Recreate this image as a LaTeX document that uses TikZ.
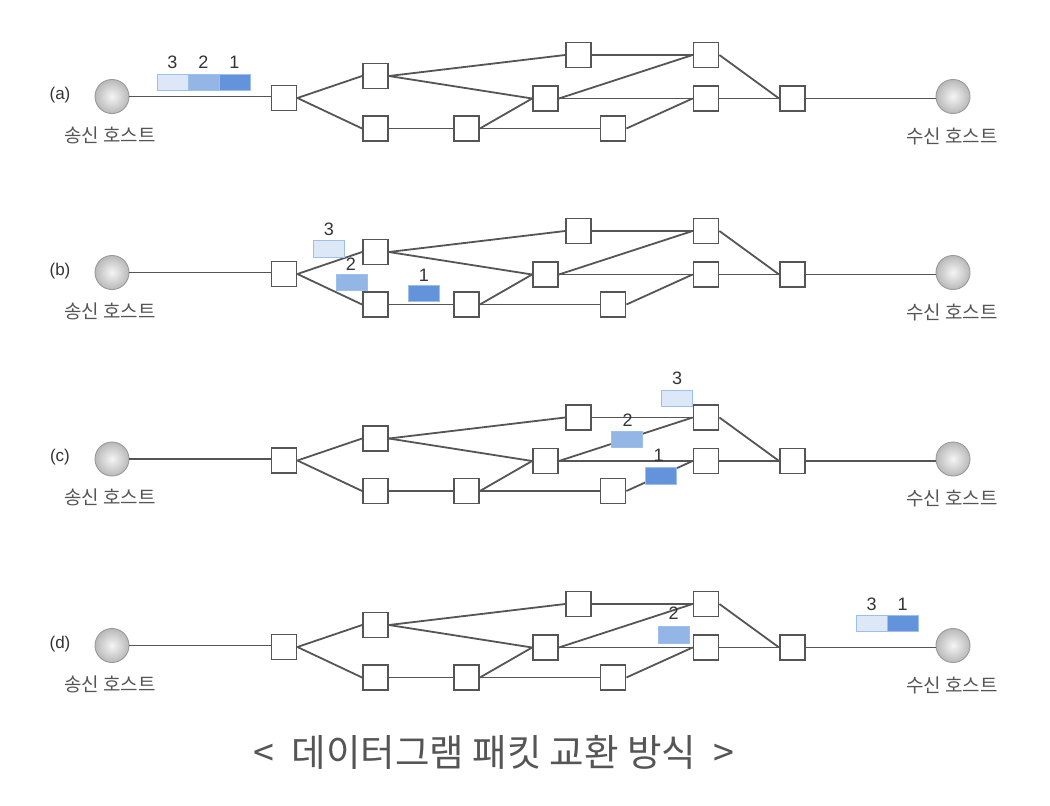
\documentclass[tikz,border=0pt]{standalone}
\usepackage{fontspec}
\setmainfont{Liberation Sans}
\newfontfamily\kr{Noto Sans CJK KR}
\definecolor{lc}{HTML}{555555}
\definecolor{txt}{HTML}{555555}
\definecolor{dark}{HTML}{333333}
\definecolor{pkb}{HTML}{9DC0E8}
\definecolor{pkL}{HTML}{DCE8F7}
\definecolor{pkM}{HTML}{93B6E6}
\definecolor{pkD}{HTML}{6393DB}
\tikzset{
  router/.style={draw=lc, fill=white, line width=1.8pt, minimum size=25pt, inner sep=0pt},
  host/.style={circle, draw=gray!80, line width=0.9pt, inner color=gray!8, outer color=gray!55, minimum size=34pt, inner sep=0pt},
  link/.style={draw=lc, line width=1.8pt},
  hostlabel/.style={font=\kr\fontsize{19}{21}\selectfont, text=txt, inner sep=0pt},
  panellabel/.style={font=\fontsize{17}{19}\selectfont, text=dark, inner sep=0pt},
  pkt/.style={draw=pkb, line width=1pt, minimum width=31pt, minimum height=16.5pt, inner sep=0pt},
  pkLight/.style={pkt, fill=pkL},
  pkMid/.style={pkt, fill=pkM},
  pkDark/.style={pkt, fill=pkD},
  digit/.style={font=\fontsize{18}{20}\selectfont, text=dark, inner sep=0pt},
}
\newcommand\netpanel[3]{%
  \node[host] (#1s) at (112,#2-1.5) {};
  \node[panellabel] (#1l) at (60,#2-3) {(#3)};
  \node[hostlabel] (#1sl) at (110,#2+37) {송신 호스트};
  \node[host] (#1d) at (953,#2-1.5) {};
  \node[hostlabel] (#1dl) at (952,#2+38) {수신 호스트};
  \node[router] (#1r0) at (284,#2) {};
  \node[router] (#1r1) at (375.5,#2-22) {};
  \node[router] (#1r2) at (375.5,#2+30.5) {};
  \node[router] (#1r3) at (466.5,#2+30.5) {};
  \node[router] (#1r4) at (545.5,#2+0.5) {};
  \node[router] (#1r5) at (578.5,#2-43) {};
  \node[router] (#1r8) at (613,#2+30.5) {};
  \node[router] (#1r6) at (706,#2-43) {};
  \node[router] (#1r7) at (706,#2+0.5) {};
  \node[router] (#1r9) at (792.5,#2+0.5) {};
  \draw[link] (#1s.east) -- (#1s.east -| #1r0.west);
  \draw[link] (#1r0.east) -- (#1r1.west);
  \draw[link] (#1r0.east) -- (#1r2.west);
  \draw[link] (#1r1.east) -- (#1r5.west);
  \draw[link] (#1r1.east) -- (#1r4.west);
  \draw[link] (#1r2.east) -- (#1r3.west);
  \draw[link] (#1r3.east) -- (#1r4.west);
  \draw[link] (#1r3.east) -- (#1r8.west);
  \draw[link] (#1r4.east) -- (#1r6.west);
  \draw[link] (#1r4.east) -- (#1r7.west);
  \draw[link] (#1r5.east) -- (#1r6.west);
  \draw[link] (#1r8.east) -- (#1r7.west);
  \draw[link] (#1r6.east) -- (#1r9.west);
  \draw[link] (#1r7.east) -- (#1r9.west);
  \draw[link] (#1r9.east) -- (#1r9.east -| #1d.west);
}
\begin{document}
\begin{tikzpicture}[x=1pt,y=-1pt]
\useasboundingbox (0,0) rectangle (1050,806);
\fill[white] (0,0) rectangle (1050,806);
\netpanel{a}{98}{a}
\netpanel{b}{274}{b}
\netpanel{c}{460.5}{c}
\netpanel{d}{647}{d}
% (a) packets
\node[pkLight] (pa3) at (172.5,82.5) {};
\node[pkMid] (pa2) at (203.5,82.5) {};
\node[pkDark] (pa1) at (234.5,82.5) {};
\node[digit] (da3) at (172.5,62) {3};
\node[digit] (da2) at (203.5,62) {2};
\node[digit] (da1) at (234.5,62) {1};
% (b) packets
\node[pkLight] (pb3) at (329,249) {};
\node[pkMid] (pb2) at (351.7,282.3) {};
\node[pkDark] (pb1) at (424,293.3) {};
\node[digit] (db3) at (329,229) {3};
\node[digit] (db2) at (351,264) {2};
\node[digit] (db1) at (424,275) {1};
% (c) packets
\node[pkLight] (pc3) at (676.7,398.7) {};
\node[pkMid] (pc2) at (626.7,439.3) {};
\node[pkDark] (pc1) at (660.5,476) {};
\node[digit] (dc3) at (677,378) {3};
\node[digit] (dc2) at (627.5,420) {2};
\node[digit] (dc1) at (658.5,455) {1};
% (d) packets
\node[pkMid] (pd2) at (673.5,635) {};
\node[digit] (dd2) at (673.5,613) {2};
\node[pkLight] (pd3) at (871.5,623.3) {};
\node[pkDark] (pd1) at (902.5,623.3) {};
\node[digit] (dd3) at (871.5,604) {3};
\node[digit] (dd1) at (902.5,604) {1};
% title
\node[font=\kr\fontsize{37.5}{40}\selectfont, text=txt, inner sep=0pt] (title) at (494,752) {<\hspace{0.45em}데이터그램 패킷 교환 방식\hspace{0.45em}>};
\end{tikzpicture}
\end{document}
